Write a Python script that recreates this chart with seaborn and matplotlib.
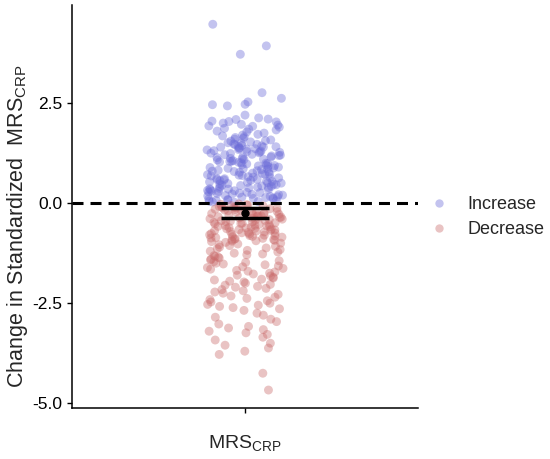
import numpy as np
import pandas as pd
import matplotlib
matplotlib.use("Agg")
import matplotlib.pyplot as plt
from matplotlib.lines import Line2D
import seaborn as sns

# ---------------- data ----------------
increase_vals = [
    4.47, 3.93, 3.72,
    2.76, 2.62, 2.53, 2.47, 2.46, 2.43,
    2.20, 2.13, 2.10, 2.09, 2.05, 2.04, 2.03, 2.00, 1.97, 1.95, 1.93, 1.92,
    1.90, 1.87, 1.85, 1.83, 1.80, 1.78,
    1.75, 1.72, 1.70, 1.68, 1.66, 1.64, 1.62, 1.60, 1.58, 1.56, 1.55, 1.53,
    1.51, 1.50, 1.48, 1.47, 1.46, 1.44, 1.43, 1.42, 1.41, 1.40, 1.40, 1.38,
    1.37, 1.36, 1.35, 1.34, 1.33, 1.31, 1.30, 1.29, 1.28, 1.27, 1.26, 1.25,
    1.24, 1.22, 1.21, 1.20, 1.19, 1.18, 1.16, 1.15, 1.14, 1.12, 1.11, 1.10,
    1.09, 1.08, 1.06, 1.05, 1.04, 1.03, 1.02, 1.01, 1.00,
    0.99, 0.98, 0.96, 0.95, 0.94, 0.93, 0.92, 0.90, 0.89, 0.88, 0.87, 0.86,
    0.85, 0.84, 0.82, 0.81, 0.80, 0.79, 0.78, 0.77, 0.75, 0.74, 0.73, 0.72,
    0.71, 0.70, 0.69, 0.68, 0.66, 0.65, 0.64, 0.63, 0.62, 0.61, 0.60, 0.59,
    0.58, 0.57, 0.56, 0.55, 0.54, 0.53, 0.52, 0.51, 0.50,
    0.49, 0.48, 0.47, 0.46, 0.45, 0.44, 0.43, 0.42, 0.41, 0.40, 0.39, 0.38,
    0.37, 0.36, 0.35, 0.34, 0.33, 0.32, 0.31, 0.30, 0.29, 0.28, 0.27, 0.26,
    0.25, 0.24, 0.23, 0.22, 0.21, 0.20, 0.19, 0.18, 0.17, 0.16, 0.15, 0.14,
    0.13, 0.12, 0.11, 0.10, 0.09, 0.08, 0.07, 0.06, 0.05, 0.04, 0.03, 0.02,
]
decrease_vals = [
    -0.02, -0.03, -0.04, -0.05, -0.06, -0.07, -0.08, -0.09, -0.10, -0.11,
    -0.12, -0.13, -0.14, -0.15, -0.16, -0.17, -0.18, -0.19, -0.20, -0.21,
    -0.22, -0.23, -0.24, -0.25, -0.26, -0.27, -0.28, -0.29, -0.30, -0.31,
    -0.32, -0.33, -0.34, -0.35, -0.36, -0.37, -0.38, -0.39, -0.40, -0.41,
    -0.42, -0.43, -0.44, -0.45, -0.46, -0.47, -0.48, -0.49, -0.50,
    -0.51, -0.52, -0.53, -0.54, -0.55, -0.56, -0.57, -0.58, -0.59, -0.60,
    -0.61, -0.62, -0.63, -0.64, -0.65, -0.66, -0.67, -0.68, -0.69, -0.70,
    -0.71, -0.72, -0.73, -0.74, -0.75, -0.76, -0.77, -0.78, -0.79, -0.80,
    -0.81, -0.82, -0.83, -0.84, -0.85, -0.86, -0.87, -0.88, -0.89, -0.90,
    -0.91, -0.92, -0.93, -0.94, -0.95, -0.96, -0.98, -1.00, -1.02, -1.04,
    -1.06, -1.08, -1.10,
    -1.12, -1.14, -1.16, -1.18, -1.20, -1.22, -1.25, -1.27, -1.29, -1.31,
    -1.33, -1.35, -1.37, -1.40, -1.42, -1.44, -1.46, -1.48, -1.50, -1.52,
    -1.54, -1.57, -1.59, -1.61, -1.63, -1.65, -1.68, -1.70,
    -1.72, -1.75, -1.77, -1.80, -1.82, -1.85, -1.87, -1.90, -1.92, -1.95,
    -1.97, -2.00, -2.03, -2.05, -2.08, -2.10, -2.13, -2.16, -2.19, -2.22,
    -2.25, -2.28,
    -2.32, -2.35, -2.38, -2.41, -2.44, -2.47, -2.50, -2.53, -2.55, -2.58,
    -2.61, -2.64, -2.68,
    -2.75, -2.80, -2.85, -2.90, -2.96, -3.02, -3.08, -3.12, -3.16, -3.20,
    -3.24, -3.28,
    -3.35, -3.42, -3.50, -3.55, -3.62, -3.70, -3.78,
    -4.25, -4.67,
]
group_label = "MRS"
hue_labels = ["Increase", "Decrease"]
hue_colors = ["#6a6ad8", "#c96a6a"]
mean_change = -0.25
ci_low = -0.37
ci_high = -0.12
y_ticks = [-5.0, -2.5, 0.0, 2.5]

# ---------------- build table ----------------
df = pd.DataFrame({
    "group": [group_label] * (len(increase_vals) + len(decrease_vals)),
    "change": increase_vals + decrease_vals,
    "direction": [hue_labels[0]] * len(increase_vals) + [hue_labels[1]] * len(decrease_vals),
})

sns.set_style("ticks")
plt.rcParams["font.family"] = ["Liberation Sans", "DejaVu Sans"]
plt.rcParams["mathtext.fontset"] = "custom"
plt.rcParams["mathtext.rm"] = "Liberation Sans"
plt.rcParams["mathtext.it"] = "Liberation Sans:italic"
plt.rcParams["mathtext.bf"] = "Liberation Sans:bold"

fig = plt.figure(figsize=(5.5, 4.59), dpi=100)
ax = fig.add_axes([0.131, 0.111, 0.629, 0.878])

np.random.seed(7)
sns.stripplot(data=df, x="group", y="change", hue="direction",
              hue_order=hue_labels, palette=hue_colors, jitter=0.11,
              size=6.4, alpha=0.4, linewidth=0, dodge=False,
              legend=False, ax=ax, zorder=2)

ax.axhline(0, color="black", lw=2.2, ls=(0, (3.6, 2.3)), zorder=3)

ax.errorbar([0], [mean_change],
            yerr=[[mean_change - ci_low], [ci_high - mean_change]],
            fmt="o", color="black", ms=5, capsize=17, elinewidth=2,
            capthick=2.5, zorder=5)

ax.set_xlim(-0.5, 0.5)
ax.set_ylim(-5.12, 4.95)
ax.set_yticks(y_ticks)
ax.set_yticklabels([f"{t:.1f}" for t in y_ticks], fontsize=12.5)
ax.set_xticks([0])
ax.set_xticklabels([""])
ax.set_xlabel(r"MRS$_{\mathrm{CRP}}$", fontsize=14, labelpad=11)
ax.set_ylabel(r"Change in Standardized  MRS$_{\mathrm{CRP}}$", fontsize=15.5)
ax.yaxis.set_label_coords(-0.122, 0.452)

for s in ["top", "right"]:
    ax.spines[s].set_visible(False)
for s in ["left", "bottom"]:
    ax.spines[s].set_color("black")
    ax.spines[s].set_linewidth(1.1)
ax.tick_params(axis="both", colors="black", length=3.5, width=1.0)

handles = [Line2D([0], [0], marker="o", ls="", color=c, alpha=0.4,
                  markersize=6.0, markeredgewidth=0) for c in hue_colors]
fig.legend(handles, hue_labels, loc="center left",
           bbox_to_anchor=(0.785, 0.527), frameon=False, fontsize=13.0,
           handletextpad=1.2, labelspacing=0.45, handlelength=0.8,
           borderaxespad=0, borderpad=0)

fig.savefig("out.png", dpi=100)
